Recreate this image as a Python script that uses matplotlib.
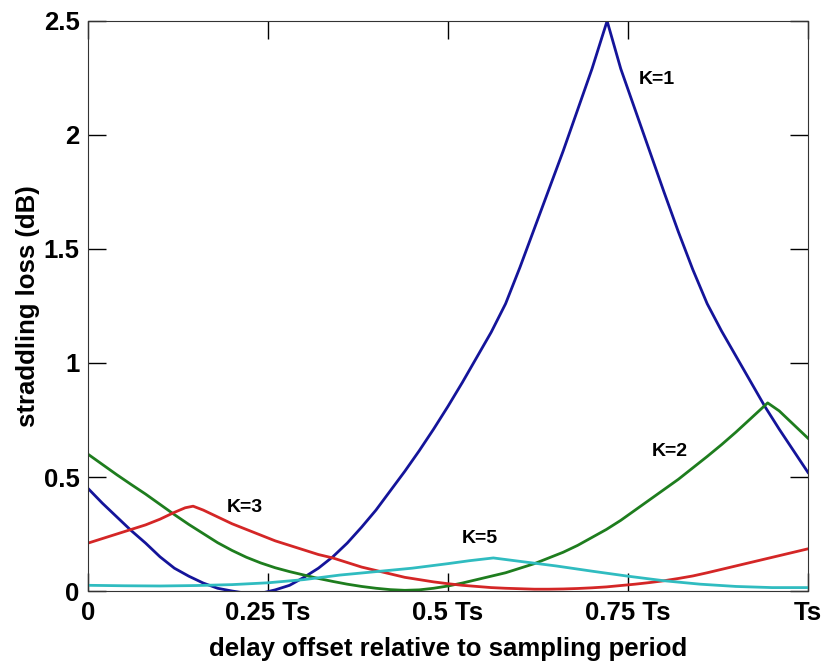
import numpy as np
import matplotlib
matplotlib.use("Agg")
import matplotlib.pyplot as plt

plt.rcParams['font.family'] = ['Liberation Sans', 'DejaVu Sans']

# K=1 (blue)
x_k1 = [0, 0.02, 0.04, 0.06, 0.08, 0.10, 0.12, 0.14, 0.16, 0.18, 0.20, 0.22,
        0.24, 0.26, 0.28, 0.30, 0.32, 0.34, 0.36, 0.38, 0.40, 0.42, 0.44, 0.46,
        0.48, 0.50, 0.52, 0.54, 0.56, 0.58, 0.60, 0.62, 0.64, 0.66, 0.68, 0.70,
        0.721, 0.74, 0.76, 0.78, 0.80, 0.82, 0.84, 0.86, 0.88, 0.90, 0.92, 0.94,
        0.96, 0.98, 1.0]
y_k1 = [0.45, 0.385, 0.325, 0.265, 0.21, 0.15, 0.10, 0.065, 0.035, 0.012, 0.0, -0.01,
        -0.01, 0.005, 0.025, 0.06, 0.10, 0.15, 0.21, 0.28, 0.355, 0.44, 0.525, 0.615,
        0.71, 0.81, 0.915, 1.025, 1.135, 1.26, 1.42, 1.59, 1.76, 1.93, 2.11, 2.29,
        2.5, 2.29, 2.11, 1.93, 1.75, 1.575, 1.41, 1.26, 1.14, 1.03, 0.92, 0.81,
        0.71, 0.615, 0.52]

# K=2 (green)
x_k2 = [0, 0.02, 0.04, 0.06, 0.08, 0.10, 0.12, 0.14, 0.16, 0.18, 0.20, 0.22,
        0.24, 0.26, 0.28, 0.30, 0.32, 0.34, 0.36, 0.38, 0.40, 0.42, 0.44, 0.46,
        0.48, 0.50, 0.52, 0.54, 0.56, 0.58, 0.60, 0.62, 0.64, 0.66, 0.68, 0.70,
        0.72, 0.74, 0.76, 0.78, 0.80, 0.82, 0.84, 0.86, 0.88, 0.90, 0.92, 0.944,
        0.96, 0.98, 1.0]
y_k2 = [0.60, 0.555, 0.51, 0.467, 0.425, 0.38, 0.335, 0.292, 0.252, 0.212, 0.178, 0.148,
        0.123, 0.102, 0.085, 0.07, 0.055, 0.042, 0.03, 0.02, 0.012, 0.006, 0.003, 0.005,
        0.012, 0.022, 0.035, 0.05, 0.065, 0.08, 0.10, 0.12, 0.145, 0.17, 0.20, 0.235,
        0.27, 0.31, 0.355, 0.40, 0.445, 0.49, 0.54, 0.59, 0.642, 0.697, 0.755, 0.825,
        0.79, 0.73, 0.67]

# K=3 (red)
x_k3 = [0, 0.02, 0.04, 0.06, 0.08, 0.10, 0.12, 0.135, 0.146, 0.16, 0.18, 0.20,
        0.22, 0.24, 0.26, 0.28, 0.30, 0.32, 0.34, 0.36, 0.38, 0.40, 0.42, 0.44,
        0.46, 0.48, 0.50, 0.52, 0.54, 0.56, 0.58, 0.60, 0.62, 0.64, 0.66, 0.68,
        0.70, 0.72, 0.74, 0.76, 0.78, 0.80, 0.82, 0.84, 0.86, 0.88, 0.90, 0.92,
        0.94, 0.96, 0.98, 1.0]
y_k3 = [0.21, 0.23, 0.25, 0.27, 0.29, 0.315, 0.345, 0.365, 0.372, 0.355, 0.325, 0.295,
        0.27, 0.245, 0.22, 0.20, 0.18, 0.16, 0.145, 0.125, 0.105, 0.09, 0.075, 0.06,
        0.05, 0.04, 0.032, 0.025, 0.02, 0.015, 0.012, 0.01, 0.008, 0.008, 0.009, 0.011,
        0.014, 0.018, 0.024, 0.03, 0.037, 0.045, 0.055, 0.066, 0.08, 0.095, 0.11, 0.125,
        0.14, 0.155, 0.17, 0.185]

# K=5 (cyan)
x_k5 = [0, 0.05, 0.10, 0.15, 0.20, 0.25, 0.30, 0.35, 0.40, 0.45, 0.50, 0.53,
        0.563, 0.60, 0.65, 0.70, 0.75, 0.80, 0.85, 0.90, 0.95, 1.0]
y_k5 = [0.025, 0.023, 0.022, 0.024, 0.028, 0.036, 0.05, 0.07, 0.085, 0.10, 0.12, 0.133,
        0.145, 0.13, 0.11, 0.087, 0.065, 0.045, 0.03, 0.02, 0.015, 0.015]

xticks = [0, 0.25, 0.5, 0.75, 1.0]
xtick_labels = ['0', '0.25 Ts', '0.5 Ts', '0.75 Ts', 'Ts']
yticks = [0, 0.5, 1, 1.5, 2, 2.5]
ytick_labels = ['0', '0.5', '1', '1.5', '2', '2.5']

fig = plt.figure(figsize=(8.31, 6.66), dpi=100)
ax = fig.add_axes([0.1059, 0.1126, 0.8664, 0.8559])

ax.plot(x_k1, y_k1, color='#14149a', lw=2)
ax.plot(x_k2, y_k2, color='#1e7d1e', lw=2)
ax.plot(x_k3, y_k3, color='#d42626', lw=2)
ax.plot(x_k5, y_k5, color='#30bcc0', lw=2)

lab = dict(fontsize=14, fontweight='bold', ha='center', va='center')
ax.text(0.790, 2.245, 'K=1', **lab)
ax.text(0.808, 0.61, 'K=2', **lab)
ax.text(0.218, 0.368, 'K=3', **lab)
ax.text(0.544, 0.232, 'K=5', **lab)

ax.set_xlim(0, 1)
ax.set_ylim(0, 2.5)
ax.set_xticks(xticks)
ax.set_xticklabels(xtick_labels)
ax.set_yticks(yticks)
ax.set_yticklabels(ytick_labels)
ax.tick_params(direction='in', length=13, top=True, right=True,
               labelsize=18.5, width=1)
ax.tick_params(axis='x', pad=7)
ax.tick_params(axis='y', pad=6)
for lbl in ax.get_xticklabels() + ax.get_yticklabels():
    lbl.set_fontweight('bold')
for sp in ax.spines.values():
    sp.set_color('#333333')

ax.set_xlabel('delay offset relative to sampling period', fontsize=18.5,
              fontweight='bold', labelpad=9)
ax.set_ylabel('straddling loss (dB)', fontsize=18.5, fontweight='bold',
              labelpad=3)

fig.savefig('out.png', dpi=100)
